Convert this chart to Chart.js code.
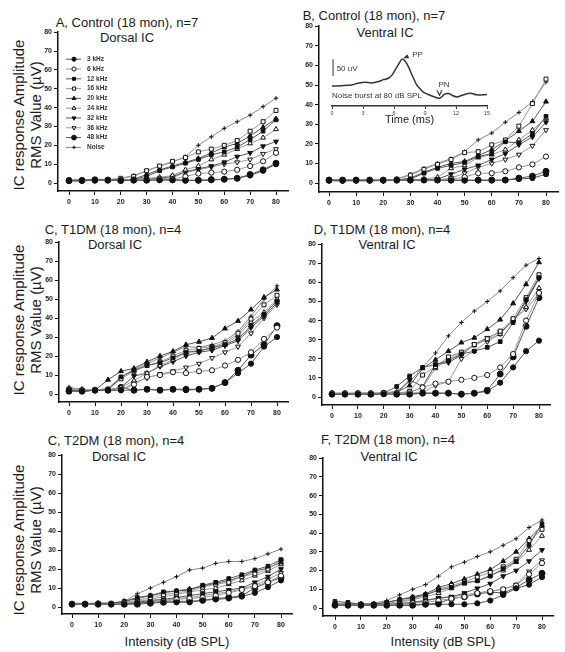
<!DOCTYPE html>
<html lang="en">
<head>
<meta charset="UTF-8">
<title>IC response amplitude</title>
<script src="https://cdn.jsdelivr.net/npm/chart.js"></script>
<style>
  body { margin: 0; background: #fff; font-family: "Liberation Sans", Arial, sans-serif; color: #1a1a1a; }
  #page { position: relative; width: 565px; height: 652px; overflow: hidden; }
  canvas { position: absolute; }
  .t { position: absolute; white-space: nowrap; transform: translate(-50%, -50%); font-size: 13px; }
  .ylab { position: absolute; white-space: nowrap; font-size: 15px; line-height: 17px; text-align: center;
          transform: translate(-50%, -50%) rotate(-90deg); }
</style>
</head>
<body>
<div id="page">
  <div class="t" style="left:127px;top:22px">A, Control (18 mon), n=7</div>
  <div class="t" style="left:127px;top:37px">Dorsal IC</div>
  <div class="t" style="left:374px;top:15px">B, Control (18 mon), n=7</div>
  <div class="t" style="left:385px;top:32px">Ventral IC</div>
  <div class="t" style="left:113px;top:229px">C, T1DM (18 mon), n=4</div>
  <div class="t" style="left:115px;top:244px">Dorsal IC</div>
  <div class="t" style="left:382px;top:229px">D, T1DM (18 mon), n=4</div>
  <div class="t" style="left:387px;top:244px">Ventral IC</div>
  <div class="t" style="left:116px;top:440px">C, T2DM (18 mon), n=4</div>
  <div class="t" style="left:119px;top:456px">Dorsal IC</div>
  <div class="t" style="left:388px;top:439px">F, T2DM (18 mon), n=4</div>
  <div class="t" style="left:389px;top:456px">Ventral IC</div>

  <div class="ylab" style="left:27px;top:115px">IC response Amplitude<br>RMS Value (&micro;V)</div>
  <div class="ylab" style="left:27px;top:320px">IC response Amplitude<br>RMS Value (&micro;V)</div>
  <div class="ylab" style="left:27px;top:540px">IC response Amplitude<br>RMS Value (&micro;V)</div>

  <div class="t" style="left:177px;top:641px">Intensity (dB SPL)</div>
  <div class="t" style="left:443px;top:641px">Intensity (dB SPL)</div>
</div>

<script>
// sound level (dB SPL)
const intensity = [0, 5, 10, 15, 20, 25, 30, 35, 40, 45, 50, 55, 60, 65, 70, 75, 80]
const seriesNames = ['3 kHz', '6 kHz', '12 kHz', '16 kHz', '20 kHz', '24 kHz', '32 kHz', '36 kHz', '48 kHz', 'Noise']
const yTickValues = [0, 10, 20, 30, 40, 50, 60, 70, 80]
const xTickValues = [0, 10, 20, 30, 40, 50, 60, 70, 80]

// rows follow seriesNames order
const controlDorsal = [
  [1.2, 1.3, 1.5, 1.5, 1.3, 1.5, 1.5, 1.5, 1.5, 1.3, 1.3, 1.5, 2, 2.5, 4, 6.5, 10],
  [1.5, 1.5, 1.5, 1.5, 1.5, 1.8, 1.8, 2, 2, 3.5, 5, 5.5, 6, 7, 9, 11.5, 16],
  [1.5, 1.5, 2, 1.8, 1.5, 2, 3.5, 6.5, 8.5, 10.5, 12.5, 15, 16.5, 19, 23, 27.5, 33.5],
  [1.5, 1.5, 2, 1.8, 2.5, 3.5, 6.5, 9, 11.5, 13.5, 16.5, 18, 20, 22.5, 27.5, 32.5, 38.5],
  [1.5, 1.5, 1.8, 1.8, 1.5, 2, 4.5, 7, 9, 11, 13, 16, 19, 21, 25, 29.5, 34],
  [1.2, 1.5, 1.5, 1.5, 1.5, 1.8, 2.5, 3, 4, 7, 9, 12.5, 15, 18, 21, 24, 28.5],
  [1.2, 1.5, 1.5, 1.5, 1.5, 1.8, 2, 2.5, 3.5, 6, 7.5, 9, 11, 14, 16, 19.5, 22],
  [1.2, 1.5, 1.5, 1.5, 1.5, 1.5, 1.8, 2, 3, 5.5, 7, 8.5, 10, 11, 12.5, 15.5, 18],
  [1.2, 1.3, 1.5, 1.5, 1.3, 1.5, 1.5, 1.8, 1.8, 1.5, 1.5, 1.8, 2, 2.5, 4.5, 7, 10.5],
  [1, 1, 1.5, 1.5, 2.5, 4, 6.5, 9, 11, 14, 20, 24.5, 29, 32.5, 36, 40.5, 45]
]
const controlVentral = [
  [1.3, 1.2, 1.3, 1.3, 1.3, 1.5, 1.5, 1.5, 1.5, 1.3, 1.3, 1.3, 1.3, 1.5, 2, 2.5, 4.5],
  [1.2, 1.2, 1.2, 1.2, 1.3, 1.5, 1.5, 1.5, 1.5, 2, 3, 5, 5, 6, 8, 9.5, 13.5],
  [1.5, 1.5, 1.5, 1.5, 1.3, 1.5, 2, 5, 7.5, 9, 10.5, 13.5, 15, 21, 20.5, 25, 34],
  [1.3, 1.3, 1.3, 1.3, 1.3, 2, 4, 7, 9.5, 12, 15.5, 16, 19.5, 22, 29, 40.5, 53],
  [1.3, 1.3, 1.3, 1.3, 1.3, 1.5, 2.5, 5.5, 8, 10, 11, 14, 17, 21.5, 26.5, 31.5, 41.5],
  [1.2, 1.2, 1.2, 1.2, 1.3, 1.3, 1.5, 2, 3, 7.5, 9, 13, 14.5, 17, 22, 27, 33],
  [1.2, 1.2, 1.2, 1.2, 1.3, 1.3, 1.5, 1.5, 2, 4.5, 7, 9, 12, 15, 19.5, 23.5, 31],
  [1.2, 1.2, 1.2, 1.2, 1.3, 1.3, 1.3, 1.5, 1.5, 2.5, 5, 8, 10, 12, 14.5, 19, 27],
  [1.5, 1.5, 1.5, 1.5, 1.5, 1.5, 1.5, 1.5, 1.5, 1.5, 1.5, 1.5, 1.5, 1.5, 2.5, 3.5, 6],
  [1.5, 1.3, 1.3, 1.3, 1.5, 2, 4.5, 7.5, 10, 12.5, 16, 22, 25.5, 31, 36, 41.5, 51.5]
]
const t1dmDorsal = [
  [2, 1.5, 2, 2, 2, 2, 2.5, 2, 2.5, 2, 2.5, 3, 6, 11, 16, 25, 30],
  [2.5, 2, 2, 2, 2, 5, 9, 10, 11.5, 11, 12, 12.5, 15, 18, 22, 29, 35],
  [2, 1.5, 2, 2, 9, 12.5, 15, 16.5, 19, 22, 22.5, 24.5, 26, 29, 36, 42, 49],
  [2.5, 2, 2, 2.5, 8, 12, 15, 17, 20, 23, 24, 25, 27, 32, 39.5, 47, 52],
  [2, 1.5, 2, 7.5, 12, 13.5, 17, 20, 22.5, 26, 27.5, 29.5, 34.5, 38.5, 44.5, 51, 55],
  [3, 2.5, 2, 2, 3.5, 7, 11, 15, 18, 22, 23, 24, 26, 31, 38, 43, 50],
  [2, 1.5, 2, 2, 3.5, 9.5, 11, 14.5, 17, 20, 22, 23, 25.5, 28, 35, 41, 48],
  [2, 2, 2, 2, 2, 6, 8.5, 10.5, 12, 14, 16, 19, 22, 25, 32, 40, 47],
  [1.5, 1.5, 2, 2, 3.5, 2, 2.5, 2, 2.5, 2.5, 2.5, 3, 6, 12.5, 20.5, 26, 36],
  [3.5, 2.5, 2, 3, 9, 13, 16, 19, 22, 25, 24.5, 26, 28, 33, 41, 50, 57]
]
const t1dmVentral = [
  [1.5, 1.5, 1.5, 1.5, 1.5, 1.5, 1.5, 2, 2, 2, 1.5, 2, 3, 7.5, 15.5, 24, 29.5],
  [2, 2, 2, 2, 2, 2, 2.5, 5, 7, 8, 9, 10, 11.5, 15.5, 22.5, 40, 54.5],
  [1.5, 1.5, 2, 2, 2, 5.5, 11, 15.5, 17, 19, 22.5, 24, 26, 29, 39, 51, 62.5],
  [1.5, 1.5, 1.5, 1.5, 1.5, 2, 3, 11.5, 16, 21, 23.5, 27.5, 30.5, 34.5, 41, 52, 64],
  [1.5, 1.5, 1.5, 1.5, 1.5, 2.5, 6, 15, 19.5, 24, 28.5, 31, 35.5, 40.5, 49, 59, 70.5],
  [1.5, 1.5, 1.5, 1.5, 2, 2, 2.5, 5, 15, 20, 23, 27, 30, 33, 40, 47, 57],
  [1.5, 1.5, 1.5, 1.5, 1.5, 2, 9, 5.5, 17, 18, 22, 27.5, 31, 34, 39.5, 50, 62],
  [1.5, 1.5, 1.5, 1.5, 1.5, 2, 2, 2.5, 6, 8, 20, 24, 29, 33, 40.5, 46, 54],
  [1.5, 1.5, 1.5, 1.5, 2, 1.5, 1.5, 2, 2, 2, 1.5, 2, 3.5, 12, 21, 37, 52],
  [2, 2, 2, 2, 2, 3, 8, 15.5, 23, 32, 39, 45, 50, 55.5, 62.5, 69, 72.5]
]
const t2dmDorsal = [
  [1.5, 1.5, 1.5, 1.5, 1.5, 2, 2.5, 2.5, 2.5, 2.5, 3.5, 4, 4.5, 5.5, 7.5, 10.5, 14],
  [1.5, 1.5, 1.5, 1.5, 2, 2, 2.5, 3, 4, 4.5, 5, 6, 7.5, 9, 11, 13, 16.5],
  [1.5, 1.5, 2, 2, 3, 5, 6, 8, 8.5, 9, 11.5, 13, 15, 17, 19.5, 21.5, 25],
  [1.5, 1.5, 1.5, 1.5, 2.5, 3.5, 5, 6.5, 7.5, 8.5, 10.5, 12, 13, 16, 17.5, 20, 24.5],
  [1.5, 1.5, 2, 1.5, 3, 4.5, 6, 7.5, 8.5, 9.5, 11, 12.5, 14, 16, 19, 20.5, 23.5],
  [1.5, 1.5, 1.5, 1.5, 2, 3, 4, 5.5, 6.5, 8, 9, 10, 12, 14, 16.5, 19, 22.5],
  [1.5, 1.5, 1.5, 1.5, 2, 2.5, 3.5, 4, 5, 6, 7, 8, 9, 10, 13, 16, 20],
  [1.5, 1.5, 1.5, 1.5, 2, 2.5, 3, 3.5, 4.5, 5, 6, 7, 8, 9.5, 11.5, 14.5, 18],
  [1.5, 1.5, 1.5, 1.5, 1.5, 1.5, 2, 2.5, 3, 3, 3.5, 4.5, 5, 6, 10, 13, 15.5],
  [2, 2, 2, 2, 3, 7, 10, 13, 16, 19.5, 20.5, 23, 24, 24, 25.5, 28, 30.5]
]
const t2dmVentral = [
  [1.5, 1.5, 1.5, 1.5, 1.5, 1.5, 1.5, 2, 2, 2, 2, 2.5, 4, 7, 10.5, 12.5, 16.5],
  [1.5, 1.5, 1.5, 1.5, 1.5, 2, 2.5, 3, 4, 5, 6, 8, 9, 10, 12, 18, 24],
  [3.5, 3, 2, 2, 3, 4.5, 5.5, 7, 9.5, 11, 13.5, 14.5, 17, 21, 25, 33.5, 45],
  [2, 2, 2, 2, 2.5, 3.5, 5, 7, 10, 12, 14, 16.5, 19, 22, 26, 36, 42],
  [2, 2, 2, 2, 3, 4.5, 6, 7.5, 11, 13, 15.5, 18, 20.5, 25, 30, 37, 44],
  [2, 2, 2, 2, 2, 3, 4.5, 6, 8, 10.5, 13, 14.5, 17.5, 20, 24.5, 31, 38.5],
  [2, 2, 2, 2, 2, 2.5, 3, 4, 5.5, 6, 8, 10.5, 13, 17, 20, 25, 31],
  [1.5, 1.5, 1.5, 1.5, 1.5, 2, 3, 4, 5, 6, 7, 8, 9, 10, 12.5, 19.5, 25.5],
  [1.5, 1.5, 1.5, 1.5, 1.5, 1.5, 1.5, 2, 2.5, 5, 6, 7.5, 8.5, 8, 11, 15, 18.5],
  [2, 2.5, 2, 2.5, 4, 7, 10, 12.5, 17, 22, 24.5, 27.5, 30, 33.5, 37, 43, 47]
]

// inset trace: noise burst at 80 dB SPL
const traceTime = [0, 0.9, 1.9, 2.5, 3.2, 3.8, 4.5, 5.0, 5.4, 5.8, 6.1, 6.4, 6.8, 7.1, 7.4, 7.6, 7.9, 8.2, 8.5, 8.8, 9.3, 9.8, 10.4, 10.9, 11.3, 11.6, 12.1, 12.6, 13.4, 14.0, 15.0]
const traceAmp = [0, 1, 3, 8, 11, 9, 13, 19, 22, 32, 47, 62, 79, 72, 57, 42, 22, 3, -7, -17, -25, -31, -36, -24, -22, -27, -32, -27, -21, -26, -25]
const traceTicks = [0, 3, 6, 9, 12, 15]

// marker look for each series
const markers = [
  { style: 'circle', rot: 0, r: 2.6, fill: '#111', line: '#555' },
  { style: 'circle', rot: 0, r: 2.6, fill: '#fff', line: '#999' },
  { style: 'rect', rot: 0, r: 2.6, fill: '#111', line: '#555' },
  { style: 'rect', rot: 0, r: 2.8, fill: '#fff', line: '#999' },
  { style: 'triangle', rot: 0, r: 2.8, fill: '#111', line: '#555' },
  { style: 'triangle', rot: 0, r: 2.8, fill: '#fff', line: '#999' },
  { style: 'triangle', rot: 180, r: 2.8, fill: '#111', line: '#555' },
  { style: 'triangle', rot: 180, r: 2.8, fill: '#fff', line: '#999' },
  { style: 'circle', rot: 0, r: 3, fill: '#111', line: '#555' },
  { style: 'cross', rot: 0, r: 2.2, fill: '#111', line: '#888' }
]

const padL = 28, padT = 6, padR = 6, padB = 18
const page = document.getElementById('page')

const legendPlugin = {
  id: 'insideLegend',
  afterDatasetsDraw(chart) {
    const ctx = chart.ctx
    const a = chart.chartArea
    ctx.save()
    seriesNames.forEach((name, i) => {
      const m = markers[i]
      const y = a.top + 27 + i * 9.8
      ctx.strokeStyle = m.line
      ctx.lineWidth = 1
      ctx.beginPath()
      ctx.moveTo(a.left + 8, y)
      ctx.lineTo(a.left + 23, y)
      ctx.stroke()
      ctx.fillStyle = m.fill
      ctx.strokeStyle = '#111'
      Chart.helpers.drawPoint(ctx, { pointStyle: m.style, radius: m.r * 0.8, rotation: m.rot, borderWidth: 1 }, a.left + 16, y)
      ctx.fillStyle = '#333'
      ctx.font = 'bold 6.5px "Liberation Sans", Arial, sans-serif'
      ctx.textBaseline = 'middle'
      ctx.fillText(name, a.left + 29, y)
    })
    ctx.restore()
  }
}

function makePanel(p, values) {
  const canvas = document.createElement('canvas')
  const w = p.r - p.l + padL + padR
  const h = p.b - p.t + padT + padB
  canvas.width = w
  canvas.height = h
  canvas.style.left = (p.l - padL) + 'px'
  canvas.style.top = (p.t - padT) + 'px'
  page.appendChild(canvas)

  const xu = (p.x80 - p.x0) / 80
  const yu = (p.y0 - p.t) / 80

  const datasets = values.map((row, i) => ({
    label: seriesNames[i],
    data: row.map((v, j) => ({ x: intensity[j], y: v })),
    borderColor: markers[i].line,
    borderWidth: 1,
    pointStyle: markers[i].style,
    pointRotation: markers[i].rot,
    pointRadius: markers[i].r,
    pointBackgroundColor: markers[i].fill,
    pointBorderColor: '#111',
    pointBorderWidth: 1,
    tension: 0
  }))

  const tickFont = { size: 7, weight: 'bold', family: '"Liberation Sans", Arial, sans-serif' }

  new Chart(canvas, {
    type: 'line',
    data: { datasets },
    plugins: p.legend ? [legendPlugin] : [],
    options: {
      responsive: false,
      animation: false,
      layout: { padding: { top: padT, right: padR, left: 0, bottom: 0 } },
      plugins: { legend: { display: false }, tooltip: { enabled: false } },
      scales: {
        x: {
          type: 'linear',
          min: (p.l - p.x0) / xu,
          max: (p.r - p.x0) / xu,
          afterBuildTicks: s => { s.ticks = xTickValues.map(v => ({ value: v })) },
          afterFit: s => { s.height = padB },
          grid: { drawOnChartArea: false, tickLength: 4, color: '#111' },
          border: { color: '#111', width: 1.5 },
          ticks: { font: tickFont, color: '#222', padding: 3, maxRotation: 0, autoSkip: false }
        },
        y: {
          type: 'linear',
          min: -(p.b - p.y0) / yu,
          max: 80,
          afterBuildTicks: s => { s.ticks = yTickValues.map(v => ({ value: v })) },
          afterFit: s => { s.width = padL },
          grid: { drawOnChartArea: false, tickLength: 4, color: '#111' },
          border: { color: '#111', width: 1.5 },
          ticks: { font: tickFont, color: '#222', padding: 2, autoSkip: false }
        }
      }
    }
  })
}

makePanel({ l: 58, t: 32, r: 288, b: 191, x0: 69, x80: 276, y0: 183, legend: true }, controlDorsal)
makePanel({ l: 319, t: 26, r: 558, b: 192, x0: 329, x80: 546, y0: 183 }, controlVentral)
makePanel({ l: 59, t: 242, r: 288, b: 402, x0: 69, x80: 277, y0: 394 }, t1dmDorsal)
makePanel({ l: 322, t: 244, r: 550, b: 405, x0: 332, x80: 539, y0: 397 }, t1dmVentral)
makePanel({ l: 62, t: 455, r: 292, b: 614, x0: 72, x80: 281, y0: 607 }, t2dmDorsal)
makePanel({ l: 323, t: 458, r: 553, b: 616, x0: 335, x80: 542, y0: 608 }, t2dmVentral)

// inset waveform in panel B
const insetNotes = {
  id: 'insetNotes',
  afterDraw(chart) {
    const { ctx, scales: { x, y } } = chart
    ctx.save()
    ctx.strokeStyle = '#333'
    ctx.fillStyle = '#333'
    ctx.lineWidth = 1
    // 50 uV scale bar
    const bx = x.getPixelForValue(0.1)
    ctx.beginPath()
    ctx.moveTo(bx, y.getPixelForValue(29))
    ctx.lineTo(bx, y.getPixelForValue(79))
    ctx.stroke()
    ctx.font = '8px "Liberation Sans", Arial, sans-serif'
    ctx.textBaseline = 'middle'
    ctx.fillText('50 uV', x.getPixelForValue(0.45), y.getPixelForValue(50))
    ctx.fillText('Noise burst at 80 dB SPL', x.getPixelForValue(0), y.getPixelForValue(-29))

    // PP arrow
    const pk = traceAmp.indexOf(Math.max(...traceAmp))
    const px = x.getPixelForValue(traceTime[pk]), py = y.getPixelForValue(traceAmp[pk])
    ctx.beginPath()
    ctx.moveTo(px + 1, py - 1)
    ctx.lineTo(px + 7, py - 1)
    ctx.lineTo(px + 5, py - 5)
    ctx.closePath()
    ctx.fill()
    ctx.fillText('PP', px + 10, py - 4)

    // PN arrow
    const tr = traceAmp.indexOf(Math.min(...traceAmp))
    const nx = x.getPixelForValue(traceTime[tr]), ny = y.getPixelForValue(traceAmp[tr])
    ctx.lineWidth = 1.2
    ctx.beginPath()
    ctx.moveTo(nx - 2.5, ny - 8)
    ctx.lineTo(nx, ny - 3)
    ctx.lineTo(nx + 2.5, ny - 8)
    ctx.stroke()
    ctx.fillText('PN', nx - 1, ny - 13)
    ctx.restore()
  }
}

const inset = document.createElement('canvas')
inset.width = 170
inset.height = 80
inset.style.left = '325px'
inset.style.top = '48px'
page.appendChild(inset)

new Chart(inset, {
  type: 'line',
  data: {
    datasets: [{
      data: traceTime.map((t, i) => ({ x: t, y: traceAmp[i] })),
      borderColor: '#333',
      borderWidth: 1.5,
      pointRadius: 0,
      tension: 0.35
    }]
  },
  plugins: [insetNotes],
  options: {
    responsive: false,
    animation: false,
    layout: { padding: { top: 4, right: 8, left: 7, bottom: 0 } },
    plugins: { legend: { display: false }, tooltip: { enabled: false } },
    scales: {
      x: {
        type: 'linear', min: 0, max: 15,
        afterBuildTicks: s => { s.ticks = traceTicks.map(v => ({ value: v })) },
        afterFit: s => { s.height = 22 },
        grid: { drawOnChartArea: false, tickLength: 3, color: '#333' },
        border: { color: '#333', width: 1.5 },
        ticks: { font: { size: 5.5, family: '"Liberation Sans", Arial, sans-serif' }, color: '#444', padding: 1, maxRotation: 0, autoSkip: false },
        title: { display: true, text: 'Time (ms)', color: '#1a1a1a', font: { size: 11, family: '"Liberation Sans", Arial, sans-serif' }, padding: { top: 0, bottom: 1 } }
      },
      y: { display: false, min: -58.8, max: 100 }
    }
  }
})
</script>
</body>
</html>
